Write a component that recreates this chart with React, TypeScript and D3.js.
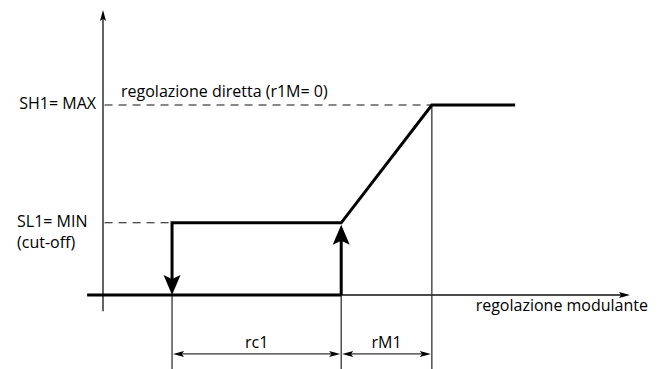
import React from 'react';
import * as d3 from 'd3';

const W = 666;
const H = 369;

// x values (arbitrary regulation units, 0 = y axis)
const xAxisRange = [-3, 100];
const cutOffX = 13.1; // switch off point
const cutInX = 45.2; // switch on point
const maxX = 62.4; // SH1 reached
const plateauEndX = 78.2;

// y levels
const yAxisRange = [-0.085, 1.5];
const minLevel = 0.38;
const maxLevel = 1.0;
const dimLevel = -0.31;

const levelLabels = [
  { lines: ['SH1= MAX'], y: maxLevel },
  { lines: ['SL1= MIN', '(cut-off)'], y: minLevel },
];
const dimensions = [
  { from: cutOffX, to: cutInX, label: 'rc1' },
  { from: cutInX, to: maxX, label: 'rM1' },
];
const topLabel = 'regolazione diretta (r1M= 0)';
const xLabel = 'regolazione modulante';

const FONT = '"Open Sans", sans-serif';
const FS = 16;

const x = d3.scaleLinear().domain([0, 100]).range([103, 630]);
const y = d3.scaleLinear().domain([0, 1]).range([295, 105]);

const line = d3.line<[number, number]>().x((d) => x(d[0])).y((d) => y(d[1]));

// filled arrow head pointing along +x, tip at origin
const head = (l: number, w: number) => `M0,0 L${-l},${-w / 2} L${-l * 0.8},0 L${-l},${w / 2} Z`;

export default function App() {
  const dimY = y(dimLevel);
  return (
    <svg width={W} height={H} style={{ display: 'block', position: 'absolute', left: 0, top: 0 }}>
      <rect width={W} height={H} fill="#fff" />
      {/* axes */}
      <line x1={x(0)} x2={x(0)} y1={y(yAxisRange[0])} y2={y(yAxisRange[1]) + 8} stroke="#111" strokeWidth={1.3} />
      <path d={head(11, 6)} transform={`translate(${x(0)},${y(yAxisRange[1])}) rotate(-90)`} fill="#000" />
      <line x1={x(xAxisRange[0])} x2={x(xAxisRange[1]) - 8} y1={y(0)} y2={y(0)} stroke="#111" strokeWidth={1.3} />
      <path d={head(11, 6)} transform={`translate(${x(xAxisRange[1])},${y(0)})`} fill="#000" />

      {/* dashed guides */}
      <path d={line([[0.3, maxLevel], [maxX, maxLevel]])!} stroke="#111" strokeWidth={1.1} strokeDasharray="8,6" fill="none" />
      <path d={line([[0.3, minLevel], [cutOffX, minLevel]])!} stroke="#111" strokeWidth={1.1} strokeDasharray="8,6" fill="none" />

      {/* thin verticals */}
      <line x1={x(cutOffX)} x2={x(cutOffX)} y1={y(0)} y2={H} stroke="#333" strokeWidth={1.3} />
      <line x1={x(cutInX)} x2={x(cutInX)} y1={y(0)} y2={H} stroke="#333" strokeWidth={1.3} />
      <line x1={x(maxX)} x2={x(maxX)} y1={y(maxLevel)} y2={H} stroke="#333" strokeWidth={1.3} />

      {/* thick characteristic */}
      <path d={line([[xAxisRange[0], 0], [cutInX, 0]])!} stroke="#000" strokeWidth={3} fill="none" />
      <path
        d={line([[cutOffX, 0.06], [cutOffX, minLevel], [cutInX, minLevel], [maxX, maxLevel], [plateauEndX, maxLevel]])!}
        stroke="#000"
        strokeWidth={3}
        strokeLinejoin="miter"
        fill="none"
      />
      <path d={line([[cutInX, 0], [cutInX, minLevel - 0.06]])!} stroke="#000" strokeWidth={3} fill="none" />
      <path d={head(20, 17)} transform={`translate(${x(cutOffX)},${y(0)}) rotate(90)`} fill="#000" />
      <path d={head(20, 17)} transform={`translate(${x(cutInX)},${y(minLevel) + 2}) rotate(-90)`} fill="#000" />

      {/* dimension arrows */}
      {dimensions.map((d) => (
        <g key={d.label}>
          <line x1={x(d.from) + 8} x2={x(d.to) - 8} y1={dimY} y2={dimY} stroke="#333" strokeWidth={1.3} />
          <path d={head(11, 6)} transform={`translate(${x(d.from) + 1},${dimY}) rotate(180)`} fill="#000" />
          <path d={head(11, 6)} transform={`translate(${x(d.to) - 1},${dimY})`} fill="#000" />
          <text x={(x(d.from) + x(d.to)) / 2} y={dimY - 6} textAnchor="middle" fontFamily={FONT} fontSize={FS} fill="#000">
            {d.label}
          </text>
        </g>
      ))}

      {/* level labels */}
      {levelLabels.map((l) =>
        l.lines.map((t, i) => (
          <text
            key={t}
            x={l.lines.length > 1 ? 17 : x(0) - 7}
            y={y(l.y) + 4 + i * 21}
            textAnchor={l.lines.length > 1 ? 'start' : 'end'}
            fontFamily={FONT}
            fontSize={FS}
            fill="#000"
          >
            {t}
          </text>
        ))
      )}

      <text x={x(0) + 18} y={y(maxLevel) - 8} fontFamily={FONT} fontSize={FS} fill="#000">
        {topLabel}
      </text>
      <text x={x(xAxisRange[1]) + 18} y={y(0) + 16} textAnchor="end" fontFamily={FONT} fontSize={FS} fill="#000">
        {xLabel}
      </text>
    </svg>
  );
}
